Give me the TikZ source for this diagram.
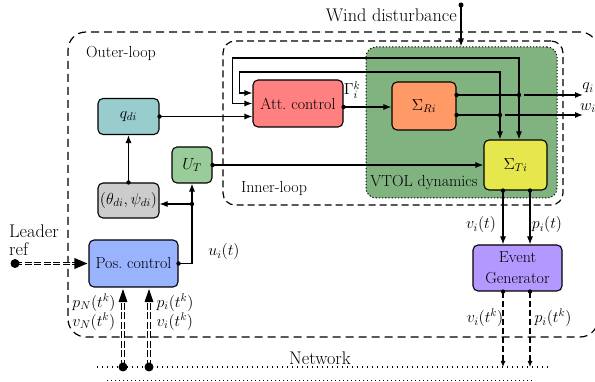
\RequirePackage{fix-cm}
\documentclass[tikz,border=0pt]{standalone}
\usetikzlibrary{arrows.meta,calc}
\definecolor{cqdi}{RGB}{153,204,204}
\definecolor{catt}{RGB}{255,128,128}
\definecolor{csr}{RGB}{255,153,102}
\definecolor{cvtol}{RGB}{128,179,128}
\definecolor{cst}{RGB}{230,230,77}
\definecolor{cut}{RGB}{153,204,153}
\definecolor{cth}{RGB}{204,204,204}
\definecolor{cpos}{RGB}{153,179,255}
\definecolor{cevt}{RGB}{179,153,255}
\begin{document}
\begin{tikzpicture}[x=1pt,y=-1pt,
  every node/.style={font=\fontsize{16}{18}\selectfont},
  box/.style={draw, line width=1.1pt, rounded corners=5pt, inner sep=1pt, align=center},
  conn/.style={line width=1.1pt, -{Latex[length=8pt,width=6pt]}},
  dconn/.style={line width=1.1pt, dash pattern=on 6pt off 3pt, -{Latex[length=6pt,width=5pt]}},
  dbl/.style={double, line width=1pt, double distance=1.6pt, dash pattern=on 7pt off 2.5pt},
  big/.style={font=\fontsize{18.3}{20}\selectfont},
  lbl/.style={inner sep=0pt}]
\useasboundingbox (0,0) rectangle (595,382);
\clip (0,0) rectangle (595,382);
% regions
\node[draw, line width=1.2pt, dash pattern=on 8pt off 5pt, rounded corners=18pt,
      minimum width=530pt, minimum height=305pt, inner sep=0pt] (outer) at (333,184.5) {};
\node[draw, line width=1.2pt, dash pattern=on 7pt off 4pt, rounded corners=12pt,
      minimum width=340pt, minimum height=164pt, inner sep=0pt] (inner) at (393,123) {};
\node[draw, line width=1pt, dash pattern=on 1.2pt off 2pt, fill=cvtol, rounded corners=10pt,
      minimum width=191pt, minimum height=151pt, inner sep=0pt] (vtol) at (461.5,122.5) {};
\node[lbl] (outerlbl) at (121,53) {Outer-loop};
\node[lbl] (innerlbl) at (274,189) {Inner-loop};
\node[lbl] (vtollbl) at (424,183) {VTOL dynamics};
% boxes
\node[box, fill=cqdi, minimum width=61pt, minimum height=36pt] (qdi) at (128.5,116.5) {$q_{di}$};
\node[box, fill=catt, minimum width=90pt, minimum height=47pt] (att) at (298,103.5) {Att.~control};
\node[box, fill=csr, minimum width=64pt, minimum height=48pt] (sigR) at (424,106) {$\Sigma_{Ri}$};
\node[box, fill=cst, minimum width=63pt, minimum height=50pt] (sigT) at (515.5,165) {$\Sigma_{Ti}$};
\node[box, fill=cut, minimum width=40pt, minimum height=36pt] (UT) at (192,165) {$U_T$};
\node[box, fill=cth, minimum width=61pt, minimum height=35pt] (thpsi) at (128.5,200.5) {$(\theta_{di},\psi_{di})$};
\node[box, fill=cpos, minimum width=89pt, minimum height=47pt] (pos) at (133.5,263.5) {Pos.~control};
\node[box, fill=cevt, minimum width=89pt, minimum height=46pt, font=\fontsize{16}{21}\selectfont] (evt) at (517.5,268) {Event\\Generator};
% wind
\coordinate (wd) at (461,5);
\node[big, lbl, anchor=east] (windlbl) at (457,15) {Wind disturbance};
\draw[conn] (wd) -- (vtol.north -| wd);
\fill (wd) circle (2.5pt);
% att -> sigR
\coordinate (ao) at ($(att.east)+(0,3.5)$);
\draw[conn] (ao) -- (sigR.west |- ao);
\fill (ao) circle (2.2pt);
\node[lbl] (gam) at (352,90) {$\Gamma_i^k$};
% sigR outputs
\coordinate (qo) at ($(sigR.east)+(0,-11)$);
\coordinate (wo) at ($(sigR.east)+(0,9)$);
\coordinate (jq) at (519,95);
\coordinate (jw) at (500,115);
\coordinate (qend) at (583,95);
\coordinate (wend) at (583,115);
\draw[line width=1.1pt] (qo) -- (jq);
\draw[line width=1.1pt] (wo) -- (jw);
\draw[conn, shorten <=5pt] (jq) -- (qend);
\draw[conn, shorten <=5pt] (jw) -- (wend);
\node[lbl] (qilbl) at (588,88) {$q_i$};
\node[lbl] (wilbl) at (588,108) {$w_i$};
% feedback to att
\draw[conn] (jq) -- (519,58) -| ($(att.west)+(-20,0)$) -- (att.west);
\draw[conn] (jw) -- (500,72) -| ($(att.west)+(-13,-10.5)$) -- ($(att.west)+(0,-10.5)$);
\draw[conn] (jq) -- (sigT.north -| jq);
\draw[conn] (jw) -- (sigT.north -| jw);
\foreach \p in {qo,wo,jq,jw} \fill (\p) circle (2.2pt);
% qdi -> att
\draw[conn] (qdi.east) -- (att.west |- qdi.east);
\fill (qdi.east) circle (2.2pt);
% UT -> sigT
\draw[conn] (UT.east) -- (sigT.west |- UT.east);
\fill (UT.east) circle (2.2pt);
% thpsi -> qdi
\draw[conn] (thpsi.north) -- (qdi.south);
\fill (thpsi.north) circle (2.2pt);
% pos -> UT, thpsi
\coordinate (tpin) at ($(thpsi.east)+(0,3.5)$);
\coordinate (jp) at (UT.south |- tpin);
\draw[conn] (pos.east) -| (UT.south);
\draw[conn] (jp) -- (tpin);
\fill (pos.east) circle (2.2pt);
\fill (jp) circle (2.2pt);
\node[lbl] (uilbl) at (224,252) {$u_i(t)$};
% sigT -> evt
\coordinate (s1) at ($(sigT.south)+(-12.5,0)$);
\coordinate (s2) at ($(sigT.south)+(14.5,0)$);
\draw[conn] (s1) -- (evt.north -| s1);
\draw[conn] (s2) -- (evt.north -| s2);
\fill (s1) circle (2.2pt);
\fill (s2) circle (2.2pt);
\node[lbl] (vitlbl) at (481,225) {$v_i(t)$};
\node[lbl] (pitlbl) at (547,225) {$p_i(t)$};
% network
\coordinate (netL) at (97,367);
\coordinate (netR) at (548,367);
\draw[line width=1.3pt, dash pattern=on 1.3pt off 3.7pt] (netL) -- (netR);
\draw[line width=0.6pt, dash pattern=on 0.8pt off 3.2pt] (107,380) -- (533,380);
\node[big, lbl] (netlbl) at (320,358) {Network};
% evt -> network
\coordinate (e1) at (evt.south -| s1);
\coordinate (e2) at (evt.south -| s2);
\draw[dconn] (e1) -- (e1 |- netL);
\draw[dconn] (e2) -- (e2 |- netL);
\fill (e1) circle (2.2pt);
\fill (e2) circle (2.2pt);
\node[lbl] (vitk) at (485,318) {$v_i(t^k)$};
\node[lbl] (pitk) at (553,318) {$p_i(t^k)$};
% network -> pos
\coordinate (n1) at (123,367);
\coordinate (n2) at (149,367);
\coordinate (p1) at ($(pos.south -| n1)+(0,1.5)$);
\coordinate (p2) at ($(pos.south -| n2)+(0,1.5)$);
\draw[dbl, line width=1.3pt] (n1) -- ($(p1)+(0,12)$);
\draw[dbl, line width=0.8pt] (n2) -- ($(p2)+(0,12)$);
\fill (p1) -- ++(-4.5,13) -- ++(9,0) -- cycle;
\fill (p2) -- ++(-4.5,13) -- ++(9,0) -- cycle;
\fill (n1) circle (4.5pt);
\fill (n2) circle (4.5pt);
\node[lbl, align=left] (pnlbl) at (94,312) {$p_N(t^k)$\\[1pt]$v_N(t^k)$};
\node[lbl, align=left] (pilbl) at (175,312) {$p_i(t^k)$\\[1pt]$v_i(t^k)$};
% leader
\coordinate (ld) at (15,263.5);
\node[big, lbl, anchor=base west] (leadtxt) at (9,238) {Leader};
\node[big, lbl, anchor=base west] (reftxt) at (9,255.5) {ref};
\draw[dbl, line width=0.8pt] (ld) -- ($(pos.west)+(-13,0)$);
\fill ($(pos.west)+(-1,0)$) -- ++(-13,-5.5) -- ++(0,11) -- cycle;
\fill (ld) circle (4.5pt);
\end{tikzpicture}
\end{document}
